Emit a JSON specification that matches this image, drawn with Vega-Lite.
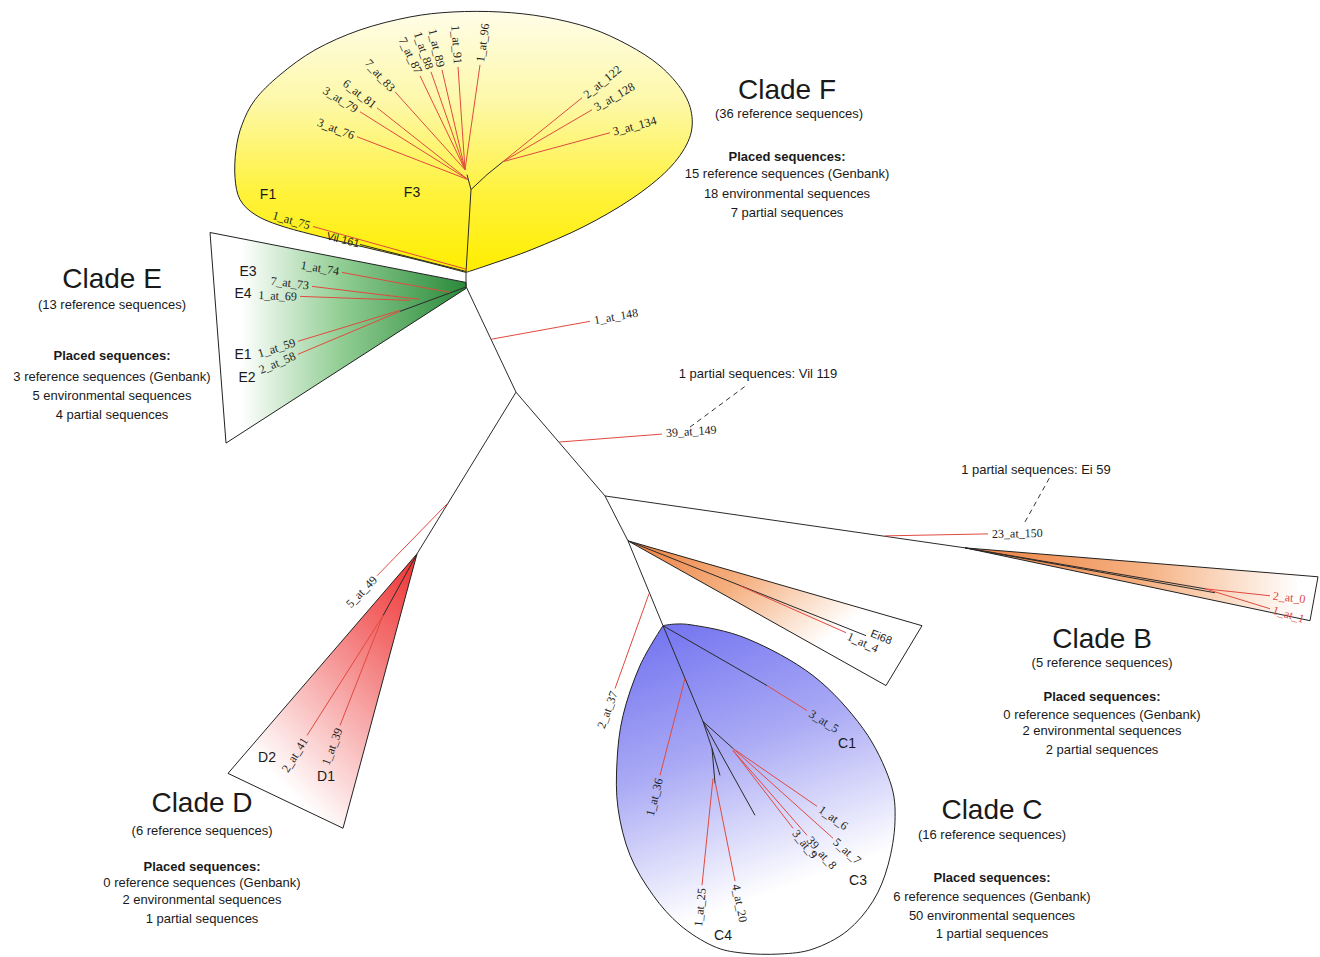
{
  "$schema": "https://vega.github.io/schema/vega-lite/v6.json",
  "width": 1320,
  "height": 957,
  "padding": 0,
  "autosize": {"type": "fit", "contains": "padding"},
  "background": "white",
  "config": {"view": {"stroke": null}},
  "datasets": {
    "shapes": [
      {"c":"F","i":0,"x":466,"y":273},{"c":"F","i":1,"x":420,"y":261},{"c":"F","i":2,"x":370,"y":249},{"c":"F","i":3,"x":320,"y":237},{"c":"F","i":4,"x":280,"y":226},{"c":"F","i":5,"x":255,"y":215},{"c":"F","i":6,"x":240,"y":200},{"c":"F","i":7,"x":235,"y":178},{"c":"F","i":8,"x":236,"y":150},{"c":"F","i":9,"x":242,"y":125},{"c":"F","i":10,"x":255,"y":100},{"c":"F","i":11,"x":280,"y":75},{"c":"F","i":12,"x":315,"y":50},{"c":"F","i":13,"x":360,"y":30},{"c":"F","i":14,"x":410,"y":17},{"c":"F","i":15,"x":453,"y":12},{"c":"F","i":16,"x":500,"y":12},{"c":"F","i":17,"x":545,"y":17},{"c":"F","i":18,"x":590,"y":28},{"c":"F","i":19,"x":628,"y":45},{"c":"F","i":20,"x":660,"y":66},{"c":"F","i":21,"x":683,"y":92},{"c":"F","i":22,"x":692,"y":117},{"c":"F","i":23,"x":688,"y":142},{"c":"F","i":24,"x":668,"y":170},{"c":"F","i":25,"x":632,"y":199},{"c":"F","i":26,"x":584,"y":227},{"c":"F","i":27,"x":532,"y":250},{"c":"F","i":28,"x":490,"y":265},{"c":"F","i":29,"x":466,"y":273},
      {"c":"E","i":0,"x":210,"y":233},{"c":"E","i":1,"x":466,"y":283},{"c":"E","i":2,"x":466,"y":289},{"c":"E","i":3,"x":226,"y":444},{"c":"E","i":4,"x":210,"y":233},
      {"c":"D","i":0,"x":417,"y":555},{"c":"D","i":1,"x":343,"y":830},{"c":"D","i":2,"x":228,"y":775},{"c":"D","i":3,"x":417,"y":555},
      {"c":"B1","i":0,"x":628,"y":542},{"c":"B1","i":1,"x":922,"y":627},{"c":"B1","i":2,"x":886,"y":687},{"c":"B1","i":3,"x":628,"y":542},
      {"c":"B2","i":0,"x":965,"y":549},{"c":"B2","i":1,"x":1318,"y":578},{"c":"B2","i":2,"x":1310,"y":622},{"c":"B2","i":3,"x":965,"y":549},
      {"c":"C","i":0,"x":663,"y":627},{"c":"C","i":1,"x":690,"y":626},{"c":"C","i":2,"x":747,"y":640},{"c":"C","i":3,"x":813,"y":677},{"c":"C","i":4,"x":863,"y":730},{"c":"C","i":5,"x":890,"y":783},{"c":"C","i":6,"x":895,"y":823},{"c":"C","i":7,"x":888,"y":867},{"c":"C","i":8,"x":873,"y":903},{"c":"C","i":9,"x":847,"y":933},{"c":"C","i":10,"x":813,"y":951},{"c":"C","i":11,"x":780,"y":956},{"c":"C","i":12,"x":742,"y":955},{"c":"C","i":13,"x":713,"y":948},{"c":"C","i":14,"x":680,"y":927},{"c":"C","i":15,"x":653,"y":897},{"c":"C","i":16,"x":630,"y":857},{"c":"C","i":17,"x":618,"y":810},{"c":"C","i":18,"x":617,"y":763},{"c":"C","i":19,"x":623,"y":717},{"c":"C","i":20,"x":640,"y":667},{"c":"C","i":21,"x":663,"y":627}
    ],
    "segs": [
      {"k":"tree","x":466,"y":273,"x2":466,"y2":287},
      {"k":"tree","x":466,"y":287,"x2":516,"y2":393},
      {"k":"tree","x":516,"y":393,"x2":417,"y2":555},
      {"k":"tree","x":516,"y":393,"x2":605,"y2":497},
      {"k":"tree","x":605,"y":497,"x2":965,"y2":549},
      {"k":"tree","x":605,"y":497,"x2":628,"y2":542},
      {"k":"tree","x":628,"y":542,"x2":663,"y2":627},
      {"k":"tree","x":466,"y":273,"x2":471,"y2":190},
      {"k":"tree","x":471,"y":190,"x2":467,"y2":175},
      {"k":"tree","x":471,"y":190,"x2":487,"y2":175},
      {"k":"tree","x":487,"y":175,"x2":503,"y2":162},
      {"k":"tree","x":466,"y":272,"x2":360,"y2":245},
      {"k":"tree","x":465,"y":288,"x2":400,"y2":312},
      {"k":"tree","x":628,"y":542,"x2":866,"y2":637},
      {"k":"tree","x":965,"y":549,"x2":1205,"y2":590},
      {"k":"tree","x":965,"y":549,"x2":1215,"y2":594},
      {"k":"tree","x":417,"y":555,"x2":383,"y2":617},
      {"k":"tree","x":663,"y":627,"x2":767,"y2":687},
      {"k":"tree","x":663,"y":627,"x2":703,"y2":723},
      {"k":"tree","x":703,"y":723,"x2":733,"y2":750},
      {"k":"tree","x":703,"y":723,"x2":755,"y2":817},
      {"k":"tree","x":703,"y":723,"x2":712,"y2":750},
      {"k":"tree","x":712,"y":750,"x2":715,"y2":785},
      {"k":"tree","x":712,"y":750,"x2":720,"y2":777},
      {"k":"red","x":468,"y":180,"x2":357,"y2":137},
      {"k":"red","x":468,"y":180,"x2":360,"y2":112},
      {"k":"red","x":468,"y":180,"x2":377,"y2":108},
      {"k":"red","x":465,"y":170,"x2":395,"y2":92},
      {"k":"red","x":465,"y":170,"x2":420,"y2":76},
      {"k":"red","x":465,"y":170,"x2":431,"y2":72},
      {"k":"red","x":465,"y":170,"x2":442,"y2":70},
      {"k":"red","x":465,"y":170,"x2":458,"y2":67},
      {"k":"red","x":465,"y":170,"x2":480,"y2":65},
      {"k":"red","x":503,"y":162,"x2":582,"y2":98},
      {"k":"red","x":503,"y":162,"x2":592,"y2":110},
      {"k":"red","x":503,"y":162,"x2":610,"y2":133},
      {"k":"red","x":467,"y":270,"x2":313,"y2":227},
      {"k":"red","x":450,"y":293,"x2":342,"y2":273},
      {"k":"red","x":420,"y":300,"x2":312,"y2":287},
      {"k":"red","x":410,"y":301,"x2":300,"y2":297},
      {"k":"red","x":400,"y":311,"x2":298,"y2":342},
      {"k":"red","x":400,"y":312,"x2":298,"y2":355},
      {"k":"red","x":491,"y":340,"x2":590,"y2":322},
      {"k":"red","x":559,"y":443,"x2":662,"y2":435},
      {"k":"red","x":885,"y":537,"x2":988,"y2":535},
      {"k":"red","x":447,"y":505,"x2":377,"y2":577},
      {"k":"red","x":649,"y":595,"x2":615,"y2":690},
      {"k":"red","x":740,"y":587,"x2":846,"y2":634},
      {"k":"red","x":1205,"y":590,"x2":1270,"y2":597},
      {"k":"red","x":1205,"y":590,"x2":1270,"y2":610},
      {"k":"red","x":383,"y":617,"x2":307,"y2":737},
      {"k":"red","x":383,"y":617,"x2":340,"y2":727},
      {"k":"red","x":767,"y":687,"x2":807,"y2":712},
      {"k":"red","x":685,"y":680,"x2":660,"y2":777},
      {"k":"red","x":733,"y":750,"x2":817,"y2":808},
      {"k":"red","x":733,"y":750,"x2":833,"y2":840},
      {"k":"red","x":733,"y":752,"x2":807,"y2":837},
      {"k":"red","x":733,"y":752,"x2":793,"y2":830},
      {"k":"red","x":713,"y":780,"x2":702,"y2":887},
      {"k":"red","x":715,"y":783,"x2":735,"y2":883},
      {"k":"dash","x":690,"y":428,"x2":748,"y2":385},
      {"k":"dash","x":1025,"y":523,"x2":1050,"y2":478}
    ],
    "leaves": [
      {"t":"3_at_76","g":"r","x":354,"y":136,"a":21},
      {"t":"3_at_79","g":"r","x":357,"y":110,"a":32},
      {"t":"6_at_81","g":"r","x":375,"y":106,"a":38},
      {"t":"7_at_83","g":"r","x":393,"y":90,"a":48},
      {"t":"7_at_87","g":"r","x":419,"y":73,"a":64},
      {"t":"1_at_88","g":"r","x":430,"y":69,"a":71},
      {"t":"1_at_89","g":"r","x":441,"y":67,"a":77},
      {"t":"1_at_91","g":"r","x":458,"y":64,"a":86},
      {"t":"1_at_75","g":"r","x":310,"y":226,"a":16},
      {"t":"1_at_74","g":"r","x":339,"y":272,"a":10},
      {"t":"7_at_73","g":"r","x":309,"y":286,"a":7},
      {"t":"1_at_69","g":"r","x":297,"y":297,"a":2},
      {"t":"1_at_59","g":"r","x":295,"y":343,"a":-17},
      {"t":"2_at_58","g":"r","x":295,"y":356,"a":-23},
      {"t":"5_at_49","g":"r","x":375,"y":579,"a":-46},
      {"t":"2_at_41","g":"r","x":305,"y":740,"a":-58},
      {"t":"1_at_39","g":"r","x":339,"y":730,"a":-69},
      {"t":"2_at_37","g":"r","x":614,"y":693,"a":-70},
      {"t":"1_at_36","g":"r","x":659,"y":780,"a":-76},
      {"t":"1_at_25","g":"r","x":702,"y":890,"a":-84},
      {"t":"1_at_96","g":"l","x":480,"y":62,"a":-82},
      {"t":"2_at_122","g":"l","x":585,"y":96,"a":-39},
      {"t":"3_at_128","g":"l","x":595,"y":108,"a":-30},
      {"t":"3_at_134","g":"l","x":613,"y":132,"a":-15},
      {"t":"1_at_148","g":"l","x":594,"y":321,"a":-10},
      {"t":"39_at_149","g":"l","x":666,"y":434,"a":-4},
      {"t":"23_at_150","g":"l","x":992,"y":535,"a":-1},
      {"t":"1_at_4","g":"l","x":848,"y":637,"a":24},
      {"t":"3_at_5","g":"l","x":810,"y":714,"a":32},
      {"t":"1_at_6","g":"l","x":820,"y":810,"a":35},
      {"t":"5_at_7","g":"l","x":835,"y":842,"a":42},
      {"t":"39_at_8","g":"l","x":809,"y":840,"a":49},
      {"t":"3_at_9","g":"l","x":795,"y":833,"a":52},
      {"t":"4_at_20","g":"l","x":736,"y":886,"a":79},
      {"t":"2_at_0","g":"lr","x":1273,"y":597,"a":6},
      {"t":"1_at_1","g":"lr","x":1273,"y":611,"a":17},
      {"t":"Vil 161","g":"s","x":343,"y":241,"a":14},
      {"t":"Ei68","g":"s","x":881,"y":639,"a":22}
    ],
    "texts": [
      {"t":"F1","r":"sub","x":268,"y":195},{"t":"F3","r":"sub","x":412,"y":193},
      {"t":"E3","r":"sub","x":248,"y":273},{"t":"E4","r":"sub","x":243,"y":295},{"t":"E1","r":"sub","x":243,"y":356},{"t":"E2","r":"sub","x":247,"y":379},
      {"t":"D2","r":"sub","x":267,"y":760},{"t":"D1","r":"sub","x":326,"y":779},
      {"t":"C1","r":"sub","x":847,"y":746},{"t":"C3","r":"sub","x":858,"y":883},{"t":"C4","r":"sub","x":723,"y":938},
      {"t":"Clade F","r":"title","x":787,"y":91},
      {"t":"Clade E","r":"title","x":112,"y":281},
      {"t":"Clade B","r":"title","x":1102,"y":641},
      {"t":"Clade D","r":"title","x":202,"y":806},
      {"t":"Clade C","r":"title","x":992,"y":813},
      {"t":"(36 reference sequences)","r":"body","x":789,"y":114},
      {"t":"(13 reference sequences)","r":"body","x":112,"y":306},
      {"t":"(5 reference sequences)","r":"body","x":1102,"y":664},
      {"t":"(6 reference sequences)","r":"body","x":202,"y":833},
      {"t":"(16 reference sequences)","r":"body","x":992,"y":837},
      {"t":"Placed sequences:","r":"head","x":787,"y":157},
      {"t":"Placed sequences:","r":"head","x":112,"y":357},
      {"t":"Placed sequences:","r":"head","x":1102,"y":698},
      {"t":"Placed sequences:","r":"head","x":202,"y":869},
      {"t":"Placed sequences:","r":"head","x":992,"y":880},
      {"t":"15 reference sequences (Genbank)","r":"body","x":787,"y":174},
      {"t":"18 environmental sequences","r":"body","x":787,"y":194},
      {"t":"7 partial sequences","r":"body","x":787,"y":213},
      {"t":"3 reference sequences (Genbank)","r":"body","x":112,"y":378},
      {"t":"5 environmental sequences","r":"body","x":112,"y":397},
      {"t":"4 partial sequences","r":"body","x":112,"y":416},
      {"t":"0 reference sequences (Genbank)","r":"body","x":1102,"y":716},
      {"t":"2 environmental sequences","r":"body","x":1102,"y":733},
      {"t":"2 partial sequences","r":"body","x":1102,"y":752},
      {"t":"0 reference sequences (Genbank)","r":"body","x":202,"y":885},
      {"t":"2 environmental sequences","r":"body","x":202,"y":902},
      {"t":"1 partial sequences","r":"body","x":202,"y":921},
      {"t":"6 reference sequences (Genbank)","r":"body","x":992,"y":899},
      {"t":"50 environmental sequences","r":"body","x":992,"y":918},
      {"t":"1 partial sequences","r":"body","x":992,"y":936},
      {"t":"1 partial sequences: Vil 119","r":"body","x":758,"y":375},
      {"t":"1 partial sequences: Ei 59","r":"body","x":1036,"y":471}
    ]
  },
  "encoding": {
    "x": {"field": "x", "type": "quantitative", "scale": {"domain": [0, 1320], "nice": false, "zero": false}, "axis": null},
    "y": {"field": "y", "type": "quantitative", "scale": {"domain": [0, 957], "nice": false, "zero": false, "reverse": true}, "axis": null}
  },
  "layer": [
    {"data": {"name": "shapes"}, "transform": [{"filter": "datum.c === 'F'"}],
     "mark": {"type": "line", "interpolate": "cardinal", "stroke": "#222", "strokeWidth": 1, "fill": {"gradient": "linear", "x1": 0, "y1": 0, "x2": 0, "y2": 1, "stops": [{"offset": 0, "color": "#fffde8"}, {"offset": 0.35, "color": "#fdf8a8"}, {"offset": 0.7, "color": "#fff23a"}, {"offset": 1, "color": "#ffee00"}]}},
     "encoding": {"order": {"field": "i", "type": "quantitative"}}},
    {"data": {"name": "shapes"}, "transform": [{"filter": "datum.c === 'E'"}],
     "mark": {"type": "line", "stroke": "#222", "strokeWidth": 1, "fill": {"gradient": "linear", "x1": 0, "y1": 0, "x2": 1, "y2": 0, "stops": [{"offset": 0, "color": "#ffffff"}, {"offset": 0.12, "color": "#ffffff"}, {"offset": 0.5, "color": "#94cf96"}, {"offset": 1, "color": "#2a8a3a"}]}},
     "encoding": {"order": {"field": "i", "type": "quantitative"}}},
    {"data": {"name": "shapes"}, "transform": [{"filter": "datum.c === 'D'"}],
     "mark": {"type": "line", "stroke": "#222", "strokeWidth": 1, "fill": {"gradient": "linear", "x1": 1, "y1": 0, "x2": 0.3, "y2": 1, "stops": [{"offset": 0, "color": "#f03030"}, {"offset": 0.3, "color": "#f37070"}, {"offset": 0.9, "color": "#ffffff"}]}},
     "encoding": {"order": {"field": "i", "type": "quantitative"}}},
    {"data": {"name": "shapes"}, "transform": [{"filter": "datum.c === 'B1'"}],
     "mark": {"type": "line", "stroke": "#222", "strokeWidth": 1, "fill": {"gradient": "linear", "x1": 0, "y1": 0, "x2": 1, "y2": 0.6, "stops": [{"offset": 0, "color": "#ec8040"}, {"offset": 0.4, "color": "#f5b080"}, {"offset": 0.8, "color": "#ffffff"}]}},
     "encoding": {"order": {"field": "i", "type": "quantitative"}}},
    {"data": {"name": "shapes"}, "transform": [{"filter": "datum.c === 'B2'"}],
     "mark": {"type": "line", "stroke": "#222", "strokeWidth": 1, "fill": {"gradient": "linear", "x1": 0, "y1": 0, "x2": 1, "y2": 0, "stops": [{"offset": 0, "color": "#ec8040"}, {"offset": 0.5, "color": "#f5b080"}, {"offset": 0.95, "color": "#ffffff"}]}},
     "encoding": {"order": {"field": "i", "type": "quantitative"}}},
    {"data": {"name": "shapes"}, "transform": [{"filter": "datum.c === 'C'"}],
     "mark": {"type": "line", "interpolate": "cardinal", "stroke": "#222", "strokeWidth": 1, "fill": {"gradient": "linear", "x1": 0, "y1": 0, "x2": 0.3, "y2": 1, "stops": [{"offset": 0, "color": "#6e6ef0"}, {"offset": 0.45, "color": "#a9a9f5"}, {"offset": 0.9, "color": "#ffffff"}]}},
     "encoding": {"order": {"field": "i", "type": "quantitative"}}},
    {"data": {"name": "segs"}, "transform": [{"filter": "datum.k === 'tree'"}],
     "mark": {"type": "rule", "color": "#2a2a2a", "strokeWidth": 1},
     "encoding": {"x2": {"field": "x2"}, "y2": {"field": "y2"}}},
    {"data": {"name": "segs"}, "transform": [{"filter": "datum.k === 'red'"}],
     "mark": {"type": "rule", "color": "#e04a3f", "strokeWidth": 1},
     "encoding": {"x2": {"field": "x2"}, "y2": {"field": "y2"}}},
    {"data": {"name": "segs"}, "transform": [{"filter": "datum.k === 'dash'"}],
     "mark": {"type": "rule", "color": "#333", "strokeWidth": 1, "strokeDash": [5, 4]},
     "encoding": {"x2": {"field": "x2"}, "y2": {"field": "y2"}}},
    {"data": {"name": "leaves"}, "transform": [{"filter": "datum.g === 'r'"}],
     "mark": {"type": "text", "font": "Liberation Serif", "fontSize": 12, "align": "right", "baseline": "middle", "color": "#222"},
     "encoding": {"text": {"field": "t"}, "angle": {"field": "a", "type": "quantitative", "scale": null}}},
    {"data": {"name": "leaves"}, "transform": [{"filter": "datum.g === 'l'"}],
     "mark": {"type": "text", "font": "Liberation Serif", "fontSize": 12, "align": "left", "baseline": "middle", "color": "#222"},
     "encoding": {"text": {"field": "t"}, "angle": {"field": "a", "type": "quantitative", "scale": null}}},
    {"data": {"name": "leaves"}, "transform": [{"filter": "datum.g === 'lr'"}],
     "mark": {"type": "text", "font": "Liberation Serif", "fontSize": 12, "align": "left", "baseline": "middle", "color": "#e04a3f"},
     "encoding": {"text": {"field": "t"}, "angle": {"field": "a", "type": "quantitative", "scale": null}}},
    {"data": {"name": "leaves"}, "transform": [{"filter": "datum.g === 's'"}],
     "mark": {"type": "text", "font": "Liberation Sans", "fontSize": 11, "align": "center", "baseline": "middle", "color": "#222"},
     "encoding": {"text": {"field": "t"}, "angle": {"field": "a", "type": "quantitative", "scale": null}}},
    {"data": {"name": "texts"}, "transform": [{"filter": "datum.r === 'sub'"}],
     "mark": {"type": "text", "font": "Liberation Sans", "fontSize": 14, "align": "center", "baseline": "middle", "color": "#1a1a1a"},
     "encoding": {"text": {"field": "t"}}},
    {"data": {"name": "texts"}, "transform": [{"filter": "datum.r === 'title'"}],
     "mark": {"type": "text", "font": "Liberation Sans", "fontSize": 28, "align": "center", "baseline": "middle", "color": "#1a1a1a"},
     "encoding": {"text": {"field": "t"}}},
    {"data": {"name": "texts"}, "transform": [{"filter": "datum.r === 'head'"}],
     "mark": {"type": "text", "font": "Liberation Sans", "fontSize": 13, "fontWeight": "bold", "align": "center", "baseline": "middle", "color": "#1a1a1a"},
     "encoding": {"text": {"field": "t"}}},
    {"data": {"name": "texts"}, "transform": [{"filter": "datum.r === 'body'"}],
     "mark": {"type": "text", "font": "Liberation Sans", "fontSize": 13, "align": "center", "baseline": "middle", "color": "#1a1a1a"},
     "encoding": {"text": {"field": "t"}}}
  ]
}
